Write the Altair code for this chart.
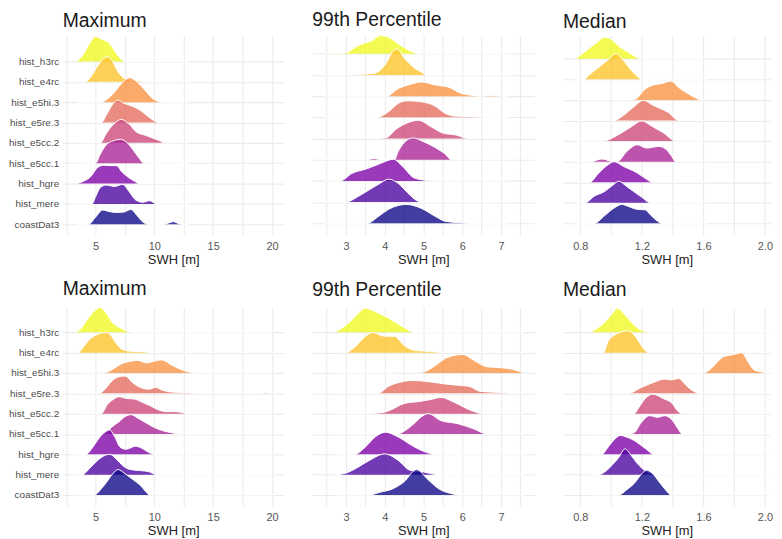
import altair as alt
import pandas as pd

RUNS = ["hist_h3rc", "hist_e4rc", "hist_e5hi.3", "hist_e5re.3", "hist_e5cc.2",
        "hist_e5cc.1", "hist_hgre", "hist_mere", "coastDat3"]
PLASMA = ["#F0F921", "#FDC328", "#F89441", "#E56B5D", "#CC4678",
          "#A92395", "#7E03A8", "#4C02A1", "#0D0887"]

# ridge outlines: (SWH value, ridge height in row units)
TOP_MAX = {
    "hist_h3rc": [(3.4, 0), (3.9, 0.3), (4.5, 0.9), (5.0, 1.22), (5.5, 1.1), (5.9, 1.0), (6.3, 0.8), (6.7, 0.45), (7.2, 0.1), (7.6, 0)],
    "hist_e4rc": [(4.1, 0), (4.6, 0.25), (5.1, 0.7), (5.6, 1.1), (6.0, 1.22), (6.4, 1.05), (6.9, 0.5), (7.5, 0.15), (8.2, 0.05), (8.8, 0.04), (9.3, 0)],
    "hist_e5hi.3": [(5.5, 0), (6.0, 0.15), (6.5, 0.42), (7.2, 0.9), (7.9, 1.2), (8.4, 1.05), (8.9, 0.78), (9.4, 0.45), (9.8, 0.2), (10.7, 0)],
    "hist_e5re.3": [(5.5, 0), (5.9, 0.35), (6.4, 0.85), (6.9, 1.1), (7.4, 0.95), (8.2, 0.78), (8.8, 0.6), (9.3, 0.37), (9.8, 0.15), (10.4, 0)],
    "hist_e5cc.2": [(5.4, 0), (5.9, 0.45), (6.5, 0.9), (7.2, 1.15), (7.8, 0.95), (8.5, 0.52), (9.2, 0.38), (9.8, 0.25), (10.4, 0.12), (10.9, 0)],
    "hist_e5cc.1": [(5.0, 0), (5.4, 0.45), (5.9, 0.9), (6.5, 1.1), (7.1, 1.17), (7.6, 1.05), (8.2, 0.65), (8.7, 0.25), (9.1, 0)],
    "hist_hgre": [(3.4, 0), (4.0, 0.12), (4.6, 0.35), (5.2, 0.8), (5.7, 0.9), (6.3, 0.88), (6.8, 0.88), (7.2, 0.6), (7.8, 0.3), (8.3, 0.12), (8.7, 0)],
    "hist_mere": [(4.7, 0), (5.0, 0.35), (5.4, 0.8), (5.9, 0.93), (6.6, 0.86), (7.3, 0.96), (7.8, 0.65), (8.4, 0.2), (9.0, 0.08), (9.6, 0.16), (10.2, 0)],
    "coastDat3": [(4.4, 0), (5.0, 0.35), (5.6, 0.7), (6.2, 0.62), (6.8, 0.58), (7.4, 0.6), (8.0, 0.73), (8.5, 0.45), (9.0, 0.12), (9.5, 0), (10.8, 0), (11.2, 0.06), (11.6, 0.13), (12.0, 0.05), (12.4, 0)],
}
TOP_P99 = {
    "hist_h3rc": [(2.45, 0), (2.7, 0.03), (2.9, 0.02), (3.05, 0.08), (3.25, 0.32), (3.45, 0.5), (3.65, 0.6), (3.88, 0.86), (4.1, 0.78), (4.35, 0.47), (4.6, 0.19), (4.9, 0)],
    "hist_e4rc": [(3.05, 0), (3.3, 0.03), (3.7, 0.07), (3.9, 0.25), (4.05, 0.6), (4.2, 1.1), (4.32, 1.23), (4.5, 0.8), (4.72, 0.4), (4.95, 0.13), (5.1, 0)],
    "hist_e5hi.3": [(4.05, 0), (4.35, 0.36), (4.65, 0.55), (4.95, 0.67), (5.3, 0.53), (5.65, 0.42), (5.95, 0.15), (6.3, 0.03), (6.5, 0.0), (6.75, 0.04), (7.0, 0)],
    "hist_e5re.3": [(3.8, 0), (4.1, 0.27), (4.35, 0.66), (4.58, 0.78), (4.95, 0.73), (5.3, 0.53), (5.55, 0.2), (5.8, 0.06), (6.2, 0.04), (6.65, 0)],
    "hist_e5cc.2": [(3.8, 0), (4.05, 0.05), (4.3, 0.45), (4.6, 0.75), (4.87, 0.86), (5.2, 0.55), (5.5, 0.26), (5.85, 0.16), (6.15, 0)],
    "hist_e5cc.1": [(3.55, 0), (3.72, 0.06), (3.9, 0), (4.25, 0), (4.35, 0.4), (4.5, 0.8), (4.73, 1.03), (5.0, 0.85), (5.3, 0.58), (5.55, 0.28), (5.72, 0)],
    "hist_hgre": [(2.85, 0), (3.15, 0.35), (3.55, 0.58), (3.9, 0.83), (4.22, 1.02), (4.45, 0.7), (4.75, 0.15), (5.0, 0.04), (5.25, 0)],
    "hist_mere": [(3.0, 0), (3.3, 0.25), (3.6, 0.58), (3.85, 0.85), (4.1, 1.08), (4.35, 0.88), (4.6, 0.42), (4.85, 0.05), (4.95, 0)],
    "coastDat3": [(3.55, 0), (3.85, 0.34), (4.1, 0.66), (4.35, 0.84), (4.55, 0.89), (4.95, 0.7), (5.3, 0.33), (5.55, 0.1), (5.9, 0.03), (6.15, 0)],
}
TOP_MED = {
    "hist_h3rc": [(0.77, 0), (0.83, 0.35), (0.9, 0.75), (0.96, 1.05), (1.0, 0.95), (1.05, 0.62), (1.12, 0.28), (1.18, 0.02), (1.19, 0)],
    "hist_e4rc": [(0.82, 0), (0.87, 0.3), (0.93, 0.65), (0.98, 0.95), (1.03, 1.24), (1.08, 0.92), (1.13, 0.45), (1.17, 0.15), (1.2, 0)],
    "hist_e5hi.3": [(1.13, 0), (1.17, 0.1), (1.21, 0.45), (1.27, 0.72), (1.33, 0.8), (1.39, 0.92), (1.44, 0.6), (1.5, 0.31), (1.55, 0.1), (1.59, 0)],
    "hist_e5re.3": [(1.02, 0), (1.08, 0.25), (1.15, 0.68), (1.21, 0.98), (1.27, 0.75), (1.32, 0.58), (1.37, 0.4), (1.44, 0)],
    "hist_e5cc.2": [(0.95, 0), (1.04, 0.28), (1.13, 0.69), (1.2, 0.98), (1.27, 0.7), (1.34, 0.4), (1.42, 0)],
    "hist_e5cc.1": [(0.87, 0), (0.94, 0.13), (1.0, 0.02), (1.04, 0), (1.1, 0.48), (1.17, 0.82), (1.23, 0.66), (1.31, 0.74), (1.36, 0.58), (1.39, 0.3), (1.42, 0)],
    "hist_hgre": [(0.86, 0), (0.92, 0.45), (0.98, 0.85), (1.02, 1.0), (1.08, 0.77), (1.17, 0.45), (1.22, 0.2), (1.27, 0)],
    "hist_mere": [(0.83, 0), (0.89, 0.32), (0.96, 0.56), (1.01, 0.85), (1.05, 1.05), (1.1, 0.8), (1.19, 0.32), (1.26, 0)],
    "coastDat3": [(0.89, 0), (0.96, 0.39), (1.02, 0.75), (1.07, 0.92), (1.12, 0.8), (1.17, 0.68), (1.22, 0.66), (1.26, 0.38), (1.3, 0.12), (1.33, 0)],
}
BOT_MAX = {
    "hist_h3rc": [(3.2, 0), (3.7, 0.15), (4.2, 0.55), (4.8, 1.0), (5.4, 1.22), (5.9, 0.95), (6.4, 0.5), (7.0, 0.25), (7.6, 0.08), (8.2, 0)],
    "hist_e4rc": [(3.5, 0), (4.0, 0.3), (4.4, 0.6), (5.0, 0.85), (5.9, 1.0), (6.3, 0.85), (6.7, 0.5), (7.3, 0.15), (8.0, 0.07), (9.0, 0.05), (9.7, 0)],
    "hist_e5hi.3": [(5.3, 0), (6.0, 0.05), (6.5, 0.2), (7.2, 0.45), (8.0, 0.58), (8.6, 0.62), (9.3, 0.5), (10.0, 0.58), (10.6, 0.65), (11.5, 0.38), (12.5, 0.12), (13.5, 0)],
    "hist_e5re.3": [(5.3, 0), (5.8, 0.2), (6.3, 0.55), (6.9, 0.8), (7.5, 0.85), (8.2, 0.5), (9.0, 0.25), (9.5, 0.2), (10.1, 0.29), (10.7, 0.15), (11.5, 0.06), (12.8, 0.03), (13.5, 0), (19.1, 0), (19.5, 0.04), (19.9, 0)],
    "hist_e5cc.2": [(5.5, 0), (6.0, 0.45), (6.5, 0.7), (7.0, 0.83), (7.6, 0.75), (8.3, 0.72), (9.0, 0.55), (9.6, 0.4), (10.3, 0.2), (11.0, 0.1), (11.8, 0.1), (12.2, 0.07), (12.8, 0)],
    "hist_e5cc.1": [(5.3, 0), (5.9, 0.05), (6.4, 0.35), (7.0, 0.6), (7.5, 0.85), (8.0, 0.95), (8.6, 0.78), (9.2, 0.58), (10.0, 0.32), (10.8, 0.15), (11.5, 0.06), (12.1, 0)],
    "hist_hgre": [(4.2, 0), (4.7, 0.3), (5.3, 0.8), (5.8, 1.1), (6.2, 1.2), (6.6, 0.9), (7.1, 0.35), (7.6, 0.25), (8.4, 0.4), (9.0, 0.28), (9.5, 0.1), (10.0, 0)],
    "hist_mere": [(3.9, 0), (4.4, 0.25), (4.9, 0.55), (5.5, 0.85), (6.2, 1.0), (6.8, 0.75), (7.3, 0.45), (7.9, 0.26), (8.8, 0.2), (9.5, 0.15), (10.2, 0)],
    "coastDat3": [(4.9, 0), (5.4, 0.25), (5.9, 0.6), (6.4, 1.0), (6.9, 1.25), (7.5, 1.05), (8.2, 0.75), (8.8, 0.48), (9.3, 0.15), (9.6, 0)],
}
BOT_P99 = {
    "hist_h3rc": [(2.7, 0), (3.0, 0.35), (3.25, 0.8), (3.5, 1.19), (3.75, 1.02), (4.1, 0.7), (4.45, 0.29), (4.78, 0)],
    "hist_e4rc": [(2.98, 0), (3.25, 0.32), (3.5, 0.8), (3.7, 0.99), (3.95, 0.82), (4.25, 0.8), (4.5, 0.35), (4.8, 0.1), (5.2, 0.06), (5.55, 0)],
    "hist_e5hi.3": [(4.15, 0), (4.5, 0.02), (4.9, 0.02), (5.1, 0.12), (5.3, 0.36), (5.6, 0.75), (6.02, 0.91), (6.3, 0.62), (6.65, 0.3), (7.0, 0.26), (7.3, 0.18), (7.6, 0)],
    "hist_e5re.3": [(3.82, 0), (4.1, 0.35), (4.4, 0.55), (4.7, 0.63), (5.1, 0.58), (5.6, 0.45), (6.0, 0.38), (6.2, 0.33), (6.45, 0.1), (7.0, 0.04), (7.35, 0)],
    "hist_e5cc.2": [(3.5, 0), (3.9, 0.04), (4.15, 0.18), (4.5, 0.5), (4.9, 0.6), (5.15, 0.68), (5.45, 0.8), (5.8, 0.55), (6.2, 0.18), (6.55, 0)],
    "hist_e5cc.1": [(4.33, 0), (4.55, 0.2), (4.75, 0.5), (4.95, 0.85), (5.12, 1.0), (5.45, 0.66), (5.9, 0.5), (6.3, 0.25), (6.65, 0)],
    "hist_hgre": [(3.22, 0), (3.5, 0.36), (3.75, 0.85), (4.02, 1.09), (4.35, 0.85), (4.75, 0.38), (5.0, 0.15), (5.3, 0)],
    "hist_mere": [(2.72, 0), (3.0, 0.08), (3.25, 0.3), (3.6, 0.7), (4.0, 1.02), (4.35, 0.7), (4.65, 0.22), (5.0, 0.13), (5.38, 0)],
    "coastDat3": [(3.58, 0), (3.9, 0.15), (4.2, 0.3), (4.5, 0.65), (4.82, 1.25), (5.12, 0.75), (5.4, 0.3), (5.7, 0.08), (5.97, 0)],
}
BOT_MED = {
    "hist_h3rc": [(0.86, 0), (0.92, 0.25), (0.97, 0.58), (1.01, 0.95), (1.04, 1.19), (1.08, 0.95), (1.12, 0.6), (1.18, 0.17), (1.26, 0)],
    "hist_e4rc": [(0.95, 0), (0.98, 0.55), (1.02, 0.85), (1.07, 1.02), (1.11, 1.07), (1.14, 0.95), (1.18, 0.55), (1.22, 0.12), (1.24, 0)],
    "hist_e5hi.3": [(1.59, 0), (1.64, 0.15), (1.68, 0.45), (1.73, 0.8), (1.79, 0.9), (1.85, 0.99), (1.89, 0.55), (1.93, 0.15), (1.98, 0.05), (2.03, 0)],
    "hist_e5re.3": [(1.11, 0), (1.2, 0.3), (1.28, 0.55), (1.35, 0.7), (1.39, 0.66), (1.44, 0.73), (1.48, 0.45), (1.52, 0.18), (1.58, 0)],
    "hist_e5cc.2": [(1.15, 0), (1.18, 0.3), (1.21, 0.63), (1.27, 0.96), (1.34, 0.74), (1.4, 0.48), (1.43, 0.15), (1.46, 0)],
    "hist_e5cc.1": [(1.1, 0), (1.15, 0.06), (1.19, 0.5), (1.25, 0.9), (1.3, 0.82), (1.35, 0.9), (1.4, 0.65), (1.44, 0.2), (1.46, 0)],
    "hist_hgre": [(0.94, 0), (0.98, 0.35), (1.02, 0.72), (1.06, 0.93), (1.1, 0.85), (1.15, 0.68), (1.22, 0.3), (1.28, 0)],
    "hist_mere": [(0.92, 0), (0.97, 0.2), (1.01, 0.5), (1.05, 0.85), (1.09, 1.27), (1.13, 0.95), (1.17, 0.55), (1.22, 0.2), (1.25, 0.08), (1.28, 0)],
    "coastDat3": [(1.05, 0), (1.1, 0.25), (1.15, 0.57), (1.2, 1.05), (1.23, 1.22), (1.26, 1.12), (1.32, 0.57), (1.36, 0.2), (1.39, 0)],
}

# full data range of each panel (white baseline of every ridge spans it)
RANGE_TOP = [(3.4, 12.9), (2.45, 7.2), (0.77, 1.62)]
RANGE_BOT = [(3.2, 20.1), (2.7, 7.6), (0.86, 2.04)]

TITLES = ["Maximum", "99th Percentile", "Median"]
X_DOMAINS = [(2.2, 21.0), (2.13, 7.86), (0.687, 2.037)]
WIDTHS = [222.5, 223.4, 209]
X_VALUES = [[2.5, 5, 7.5, 10, 12.5, 15, 17.5, 20],
            [2.5, 3, 3.5, 4, 4.5, 5, 5.5, 6, 6.5, 7, 7.5],
            [0.8, 1.0, 1.2, 1.4, 1.6, 1.8, 2.0]]
X_FORMATS = [".0f", ".0f", ".1f"]
X_LABEL_EXPR = ["datum.value % 5 === 0 ? datum.label : ''",
                "datum.value % 1 === 0 ? datum.label : ''",
                "abs((datum.value - 0.8) / 0.4 - round((datum.value - 0.8) / 0.4)) < 0.001 ? datum.label : ''"]
Y_DOMAINS_TOP = [(0.51, 10.27), (0.48, 9.86), (0.47, 10.13)]
Y_DOMAINS_BOT = [(0.46, 10.23), (0.46, 10.23), (0.46, 10.23)]

GRID = "#EBEBEB"
FONT = "Liberation Sans"
Y_LABEL_EXPR = "[" + ",".join("'%s'" % n for n in reversed(RUNS)) + "][datum.value - 1]"


def panel(j, ridges, drange, ydom, toff):
    show_y = j == 0
    xenc = alt.X("x:Q",
                 scale=alt.Scale(domain=list(X_DOMAINS[j]), nice=False, zero=False),
                 axis=alt.Axis(values=X_VALUES[j], labelExpr=X_LABEL_EXPR[j], format=X_FORMATS[j],
                               title="SWH [m]",
                               grid=True, gridColor=GRID, gridWidth=1.1, ticks=False, domain=False,
                               labelFontSize=11, labelColor="#555555", labelPadding=6, labelFont=FONT,
                               titleFontSize=13, titleColor="#222222", titleFontWeight="normal",
                               titlePadding=2, titleFont=FONT, labelFlush=False))
    yaxis = alt.Axis(values=list(range(1, 10)), labelExpr=Y_LABEL_EXPR, title=None,
                     grid=True, gridColor=GRID, gridWidth=1.1, ticks=False, domain=False,
                     labels=show_y, labelFontSize=10, labelColor="#4d4d4d", labelPadding=4,
                     labelFont=FONT, minExtent=54.5 if show_y else 0, maxExtent=54.5 if show_y else 0)
    yenc = alt.Y("y:Q", scale=alt.Scale(domain=list(ydom), nice=False, zero=False), axis=yaxis)
    layers = []
    for i, name in enumerate(RUNS):
        base = 9 - i
        pts = ridges[name]
        xs = [p[0] for p in pts]
        hs = [p[1] for p in pts]
        if xs[0] > drange[0]:
            xs = [drange[0]] + xs
            hs = [0] + hs
        if xs[-1] < drange[1]:
            xs = xs + [drange[1]]
            hs = hs + [0]
        df = pd.DataFrame({"x": xs, "y": [base + h for h in hs], "base": [base] * len(xs)})
        area = alt.Chart(df).mark_area(interpolate="monotone", color=PLASMA[i], opacity=0.78).encode(
            x=xenc, y=yenc, y2="base:Q")
        line = alt.Chart(df).mark_line(interpolate="monotone", color="white", strokeWidth=1).encode(
            x=xenc, y=yenc)
        layers += [area, line]
    return alt.layer(*layers).properties(
        width=WIDTHS[j], height=200,
        title=alt.TitleParams(TITLES[j], anchor="start", frame="group", fontSize=19.5,
                              font=FONT, fontWeight="normal", color="#1a1a1a",
                              baseline="bottom", offset=toff))


top = alt.hconcat(*[panel(j, r, RANGE_TOP[j], Y_DOMAINS_TOP[j], -16)
                    for j, r in enumerate([TOP_MAX, TOP_P99, TOP_MED])], spacing=28.3)
bot = alt.hconcat(*[panel(j, r, RANGE_BOT[j], Y_DOMAINS_BOT[j], -13)
                    for j, r in enumerate([BOT_MAX, BOT_P99, BOT_MED])], spacing=28.3)

chart = alt.vconcat(top, bot, spacing=12.5).properties(
    padding={"left": 0, "top": 0, "right": 0, "bottom": 0}, background="white"
).configure_view(stroke=None)

chart.save("out.html", embed_options={"renderer": "svg", "actions": False})
